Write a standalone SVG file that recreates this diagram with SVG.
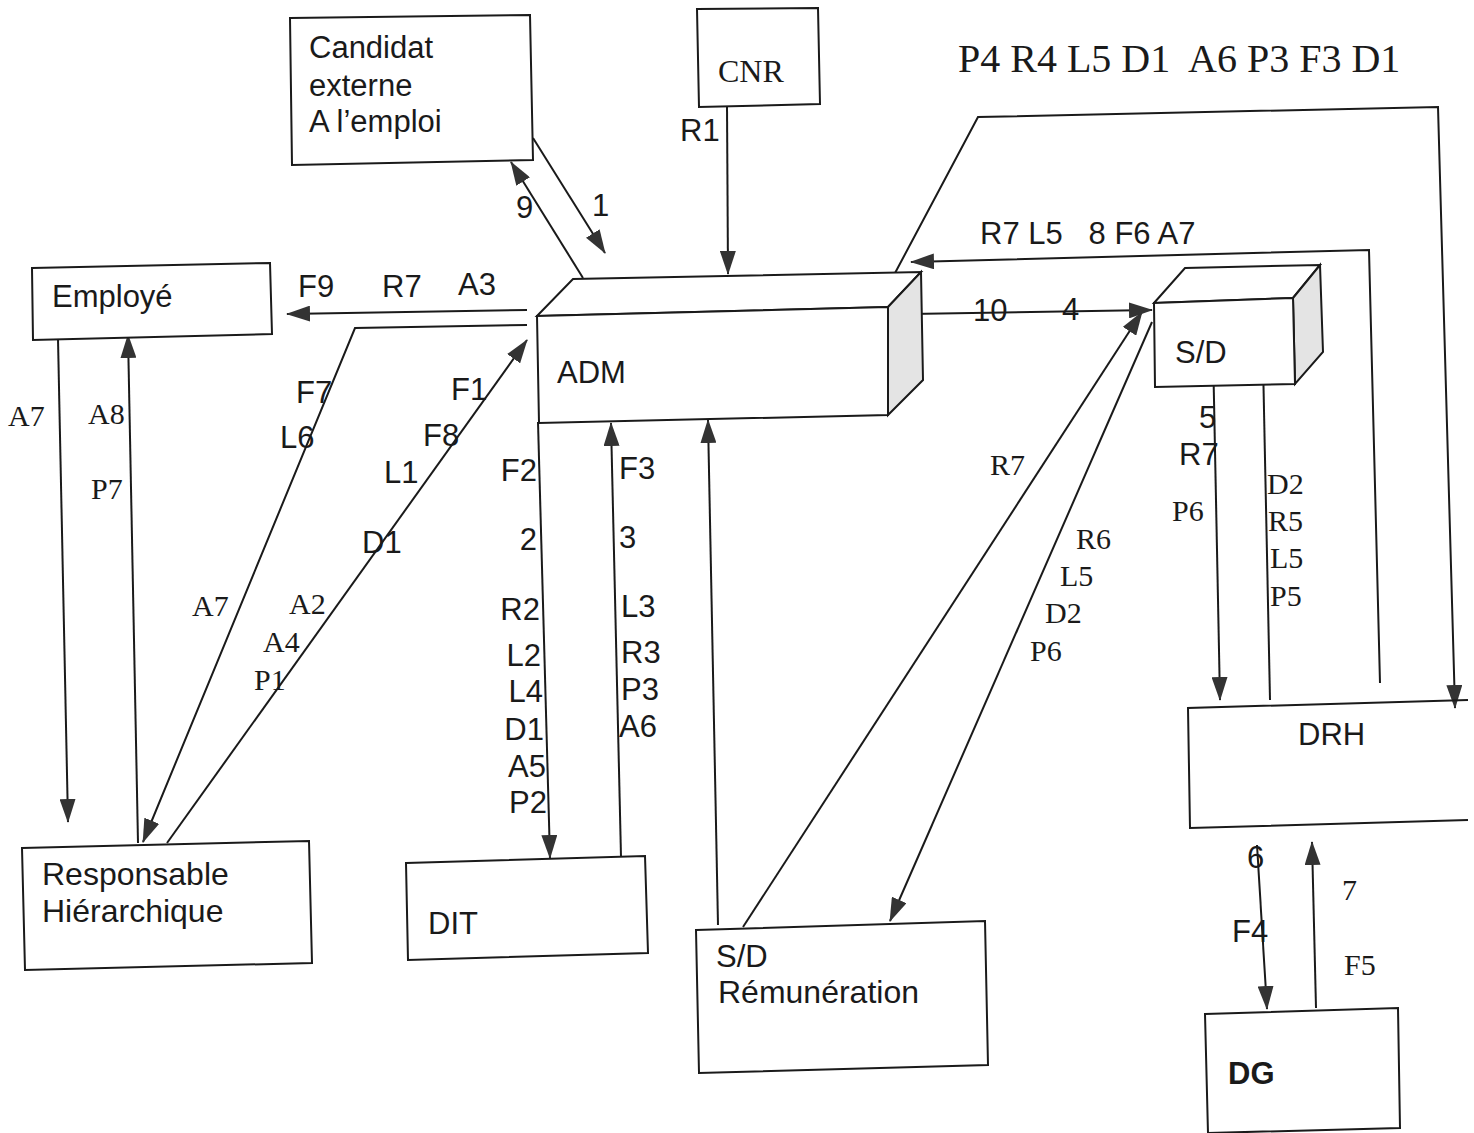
<svg xmlns="http://www.w3.org/2000/svg" width="1474" height="1133" viewBox="0 0 1474 1133">
<style>
.box{fill:#fff;stroke:#1a1a1a;stroke-width:2}
.side{fill:#e4e4e4;stroke:#1a1a1a;stroke-width:2}
.ln{fill:none;stroke:#1a1a1a;stroke-width:2}
.s{font-family:"Liberation Sans",Arial,sans-serif;font-size:31px;fill:#1a1a1a}
.t{font-family:"Liberation Serif","Times New Roman",serif;font-size:30px;fill:#1a1a1a}
.big{font-size:40px}
.cnr{font-size:32px}
.bold{font-weight:bold}
.pre{white-space:pre}
</style>
<defs>
<marker id="ar" markerUnits="userSpaceOnUse" markerWidth="24" markerHeight="16" refX="23" refY="8" orient="auto">
<path d="M0,0 L24,8 L0,16 z" fill="#333"/>
</marker>
</defs>
<rect width="1474" height="1133" fill="#fff"/>

<g id="connectors">
<line class="ln" x1="533" y1="138" x2="605" y2="253" marker-end="url(#ar)"/>
<line class="ln" x1="583" y1="278" x2="511" y2="162" marker-end="url(#ar)"/>
<line class="ln" x1="727" y1="106" x2="728" y2="274" marker-end="url(#ar)"/>
<line class="ln" x1="527" y1="310" x2="287" y2="314" marker-end="url(#ar)"/>
<polyline class="ln" points="527,325 355,328 143,842" marker-end="url(#ar)"/>
<line class="ln" x1="167" y1="843" x2="527" y2="340" marker-end="url(#ar)"/>
<line class="ln" x1="58" y1="339" x2="68" y2="822" marker-end="url(#ar)"/>
<line class="ln" x1="138" y1="843" x2="128" y2="335" marker-end="url(#ar)"/>
<line class="ln" x1="538" y1="422" x2="550" y2="858" marker-end="url(#ar)"/>
<line class="ln" x1="621" y1="857" x2="611" y2="423" marker-end="url(#ar)"/>
<line class="ln" x1="718" y1="925" x2="708" y2="420" marker-end="url(#ar)"/>
<line class="ln" x1="743" y1="927" x2="1142" y2="312" marker-end="url(#ar)"/>
<line class="ln" x1="1152" y1="322" x2="890" y2="921" marker-end="url(#ar)"/>
<line class="ln" x1="910" y1="314" x2="1152" y2="310" marker-end="url(#ar)"/>
<line class="ln" x1="1213" y1="350" x2="1220" y2="700" marker-end="url(#ar)"/>
<line class="ln" x1="1270" y1="700" x2="1263" y2="362" marker-end="url(#ar)"/>
<polyline class="ln" points="1380,683 1369,250 911,262" marker-end="url(#ar)"/>
<polyline class="ln" points="886,290 978,117 1438,107 1455,708" marker-end="url(#ar)"/>
<line class="ln" x1="1257" y1="845" x2="1267" y2="1009" marker-end="url(#ar)"/>
<line class="ln" x1="1316" y1="1008" x2="1312" y2="842" marker-end="url(#ar)"/>

<text class="s" x="516" y="218">9</text>
<text class="s" x="592" y="216">1</text>
<text class="s" x="680" y="141">R1</text>
<text class="s" x="298" y="297">F9</text>
<text class="s" x="382" y="297">R7</text>
<text class="s" x="458" y="295">A3</text>
<text class="s" x="296" y="403">F7</text>
<text class="s" x="280" y="448">L6</text>
<text class="t" x="192" y="616">A7</text>
<text class="s" x="451" y="400">F1</text>
<text class="s" x="423" y="446">F8</text>
<text class="s" x="384" y="483">L1</text>
<text class="s" x="362" y="553">D1</text>
<text class="t" x="289" y="614">A2</text>
<text class="t" x="263" y="652">A4</text>
<text class="t" x="254" y="690">P1</text>
<text class="t" x="8" y="426">A7</text>
<text class="t" x="88" y="424">A8</text>
<text class="t" x="91" y="499">P7</text>
<g class="s" text-anchor="end">
<text x="537" y="481">F2</text>
<text x="537" y="550">2</text>
<text x="540" y="620">R2</text>
<text x="541" y="666">L2</text>
<text x="543" y="702">L4</text>
<text x="544" y="740">D1</text>
<text x="546" y="777">A5</text>
<text x="547" y="813">P2</text>
</g>
<text class="s" x="619" y="479">F3</text>
<text class="s" x="619" y="548">3</text>
<text class="s" x="621" y="617">L3</text>
<text class="s" x="621" y="663">R3</text>
<text class="s" x="621" y="700">P3</text>
<text class="s" x="619" y="737">A6</text>
<text class="t" x="990" y="475">R7</text>
<text class="t" x="1076" y="549">R6</text>
<text class="t" x="1060" y="586">L5</text>
<text class="t" x="1045" y="623">D2</text>
<text class="t" x="1030" y="661">P6</text>
<text class="s" x="973" y="321">10</text>
<text class="s" x="1062" y="320">4</text>
<text class="s pre" x="980" y="244" xml:space="preserve">R7 L5   8 F6 A7</text>
<text class="s" x="1199" y="428">5</text>
<text class="s" x="1179" y="465">R7</text>
<text class="t" x="1172" y="521">P6</text>
<text class="t" x="1267" y="494">D2</text>
<text class="t" x="1268" y="531">R5</text>
<text class="t" x="1270" y="568">L5</text>
<text class="t" x="1270" y="606">P5</text>
<text class="s" x="1247" y="868">6</text>
<text class="s" x="1232" y="942">F4</text>
<text class="t" x="1342" y="900">7</text>
<text class="t" x="1344" y="975">F5</text>
<text class="t big pre" x="958" y="72" xml:space="preserve">P4 R4 L5 D1  A6 P3 F3 D1</text>
</g>

<g id="candidat">
<polygon class="box" points="290,18 530,15 533,160 292,165"/>
<text class="s" x="309" y="58">Candidat</text>
<text class="s" x="309" y="96">externe</text>
<text class="s" x="309" y="132">A l’emploi</text>
</g>
<g id="cnr">
<polygon class="box" points="697,9 818,8 820,104 699,107"/>
<text class="t cnr" x="718" y="82">CNR</text>
</g>
<g id="employe">
<polygon class="box" points="32,268 270,263 272,334 33,340"/>
<text class="s" x="52" y="307">Employé</text>
</g>
<g id="adm">
<polygon class="box" points="537,316 573,279 921,272 888,307"/>
<polygon class="side" points="888,307 921,272 923,380 888,415"/>
<polygon class="box" points="537,316 888,307 888,415 539,423"/>
<text class="s" x="557" y="383">ADM</text>
</g>
<g id="sd">
<polygon class="box" points="1154,303 1185,268 1320,265 1293,298"/>
<polygon class="side" points="1293,298 1320,265 1323,352 1295,384"/>
<polygon class="box" points="1154,303 1293,298 1295,384 1155,387"/>
<text class="s" x="1175" y="363">S/D</text>
</g>
<g id="responsable">
<polygon class="box" points="22,848 309,841 312,963 25,970"/>
<text class="s" x="42" y="885" style="font-size:32px">Responsable</text>
<text class="s" x="42" y="922" style="font-size:32px">Hiérarchique</text>
</g>
<g id="dit">
<polygon class="box" points="406,863 645,856 648,953 408,960"/>
<text class="s" x="428" y="934">DIT</text>
</g>
<g id="sdrem">
<polygon class="box" points="696,930 985,921 988,1065 699,1073"/>
<text class="s" x="716" y="967">S/D</text>
<text class="s" x="718" y="1003" style="font-size:32px">Rémunération</text>
</g>
<g id="drh">
<polyline class="ln" points="1468,700 1188,708 1190,828 1468,820"/>
<text class="s" x="1298" y="745">DRH</text>
</g>
<g id="dg">
<polygon class="box" points="1205,1014 1398,1008 1400,1128 1208,1133"/>
<text class="s bold" x="1228" y="1084">DG</text>
</g>
</svg>
